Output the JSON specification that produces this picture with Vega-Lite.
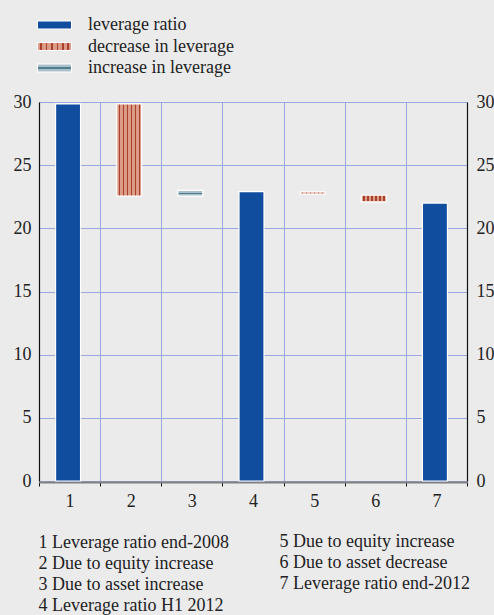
{
  "$schema": "https://vega.github.io/schema/vega-lite/v6.json",
  "autosize": "none",
  "width": 428,
  "height": 379,
  "padding": {"left": 39, "top": 102, "right": 27, "bottom": 134},
  "background": "#ebebeb",
  "config": {
    "view": {"stroke": null},
    "font": "Liberation Serif",
    "axis": {"labelFont": "Liberation Serif", "titleFont": "Liberation Serif", "labelColor": "#222222", "titleColor": "#222222", "gridColor": "#9aa6de", "gridWidth": 1, "gridOpacity": 1},
    "legend": {"labelFont": "Liberation Serif", "labelColor": "#222222"}
  },
  "data": {"values": [
    {"cat": 1, "start": 0, "end": 29.85, "type": "leverage ratio"},
    {"cat": 2, "start": 22.55, "end": 29.85, "type": "decrease in leverage"},
    {"cat": 3, "start": 22.55, "end": 23.0, "type": "increase in leverage"},
    {"cat": 4, "start": 0, "end": 22.9, "type": "leverage ratio"},
    {"cat": 5, "start": 22.71, "end": 22.89, "type": "decrease in leverage"},
    {"cat": 6, "start": 22.1, "end": 22.62, "type": "decrease in leverage"},
    {"cat": 7, "start": 0, "end": 22.0, "type": "leverage ratio"}
  ]},
  "resolve": {"axis": {"x": "independent", "y": "independent"}},
  "layer": [
    {
      "mark": {"type": "bar", "width": 25, "xOffset": -1.5, "stroke": "white", "strokeWidth": 1.2, "opacity": 1},
      "encoding": {
        "x": {
          "field": "cat", "type": "quantitative",
          "scale": {"domain": [0.5, 7.5], "nice": false, "zero": false, "padding": 0},
          "axis": {
            "orient": "bottom", "values": [0.5, 1.5, 2.5, 3.5, 4.5, 5.5, 6.5, 7.5],
            "labels": false, "grid": true, "ticks": true, "tickSize": 4, "tickColor": "#111111",
            "domain": true, "domainColor": "#808080", "domainWidth": 2, "offset": 1,
            "title": ["1 Leverage ratio end-2008", "2 Due to equity increase", "3 Due to asset increase", "4 Leverage ratio H1 2012"],
            "titleFont": "Liberation Serif",
            "titleFontSize": 18, "titleFontWeight": "normal", "titleAlign": "left", "titleAnchor": "start",
            "titleBaseline": "top", "titleX": -1, "titleY": 51, "titleLineHeight": 21
          }
        },
        "y": {
          "field": "end", "type": "quantitative",
          "scale": {"domain": [0, 30], "nice": false},
          "axis": {"orient": "left", "values": [0, 5, 10, 15, 20, 25, 30], "grid": true, "tickSize": 0, "labelPadding": 8, "labelFont": "Liberation Serif", "labelFontSize": 18, "domainColor": "#111111", "domainWidth": 1.2, "title": null}
        },
        "y2": {"field": "start"},
        "fill": {
          "field": "type", "type": "nominal",
          "scale": {
            "domain": ["leverage ratio", "decrease in leverage", "increase in leverage"],
            "range": [
              "#114d9e",
              {"expr": "{gradient:'linear',x1:0,y1:0,x2:1,y2:0,stops:[{offset:0,color:'#dc9b86'},{offset:0.08,color:'#dc9b86'},{offset:0.08,color:'#a8402e'},{offset:0.13,color:'#a8402e'},{offset:0.13,color:'#dc9b86'},{offset:0.24,color:'#dc9b86'},{offset:0.24,color:'#a8402e'},{offset:0.29,color:'#a8402e'},{offset:0.29,color:'#dc9b86'},{offset:0.4,color:'#dc9b86'},{offset:0.4,color:'#a8402e'},{offset:0.45,color:'#a8402e'},{offset:0.45,color:'#dc9b86'},{offset:0.56,color:'#dc9b86'},{offset:0.56,color:'#a8402e'},{offset:0.61,color:'#a8402e'},{offset:0.61,color:'#dc9b86'},{offset:0.72,color:'#dc9b86'},{offset:0.72,color:'#a8402e'},{offset:0.77,color:'#a8402e'},{offset:0.77,color:'#dc9b86'},{offset:0.88,color:'#dc9b86'},{offset:0.88,color:'#a8402e'},{offset:0.93,color:'#a8402e'},{offset:0.93,color:'#dc9b86'},{offset:1,color:'#dc9b86'}]}"},
              {"expr": "{gradient:'linear',x1:0,y1:0,x2:0,y2:1,stops:[{offset:0,color:'#aabfca'},{offset:0.38,color:'#aabfca'},{offset:0.38,color:'#4d7e8d'},{offset:0.58,color:'#4d7e8d'},{offset:0.58,color:'#aabfca'},{offset:1,color:'#aabfca'}]}"}
            ]
          },
          "legend": {
            "orient": "none", "legendX": 6.5, "legendY": -86, "title": null,
            "symbolType": "M-2,-0.47H2V0.47H-2Z", "symbolSize": 289,
            "symbolStrokeColor": "white", "symbolStrokeWidth": 1, "symbolOpacity": 1,
            "labelFont": "Liberation Serif", "labelFontSize": 18, "labelOffset": 24.5, "rowPadding": 3.5, "padding": 0
          }
        }
      }
    },
    {
      "mark": {"type": "point", "opacity": 0},
      "encoding": {
        "x": {
          "field": "cat", "type": "quantitative",
          "axis": {
            "orient": "bottom", "values": [1, 2, 3, 4, 5, 6, 7], "format": "d",
            "labels": true, "grid": false, "ticks": false, "domain": false,
            "labelFont": "Liberation Serif", "labelFontSize": 18, "labelPadding": 11,
            "title": ["5 Due to equity increase", "6 Due to asset decrease", "7 Leverage ratio end-2012"],
            "titleFont": "Liberation Serif",
            "titleFontSize": 18, "titleFontWeight": "normal", "titleAlign": "left", "titleAnchor": "start",
            "titleBaseline": "top", "titleX": 240, "titleY": 51, "titleLineHeight": 21
          }
        },
        "y": {
          "field": "end", "type": "quantitative",
          "axis": {"orient": "right", "values": [0, 5, 10, 15, 20, 25, 30], "grid": false, "tickSize": 0, "labelPadding": 9, "labelFont": "Liberation Serif", "labelFontSize": 18, "domainColor": "#111111", "domainWidth": 1.2, "title": null}
        }
      }
    }
  ]
}
